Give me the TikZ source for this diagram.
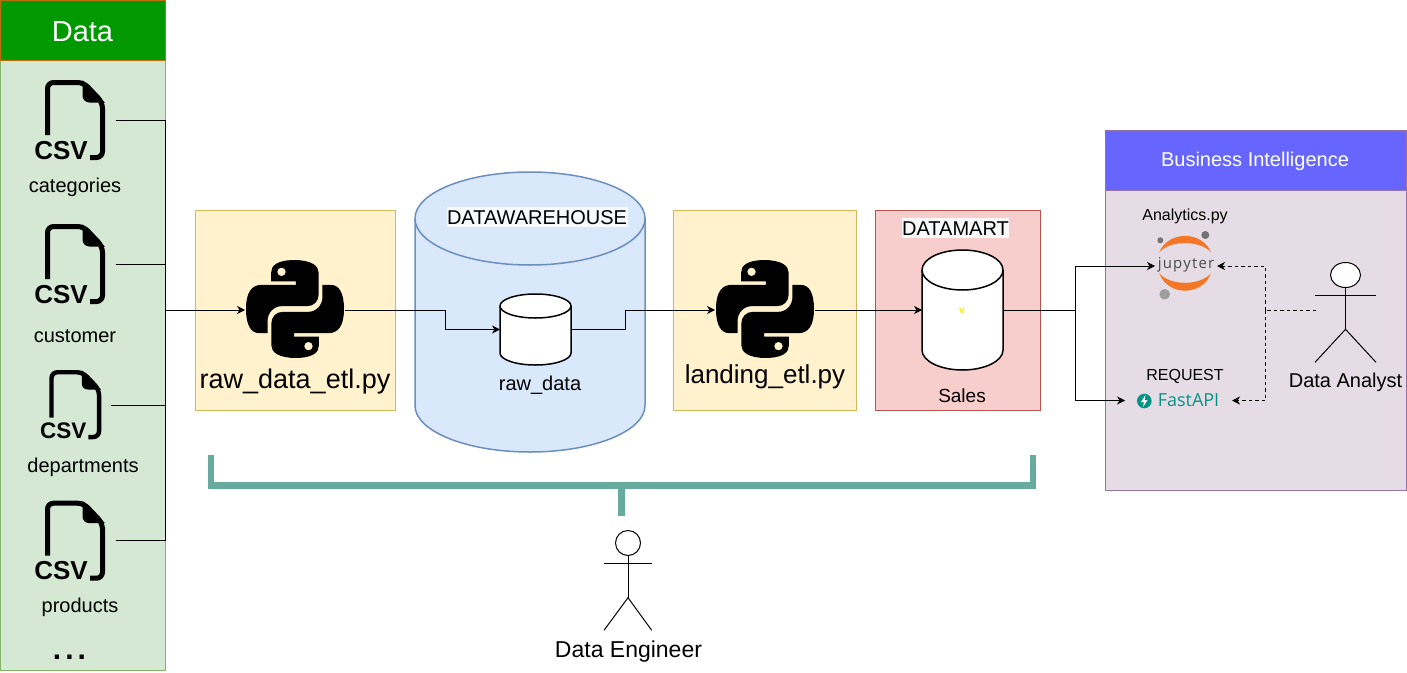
\documentclass[tikz,border=0pt]{standalone}
\usepackage{fontspec}
\setmainfont{Liberation Sans}
\newfontfamily\jupfont[LetterSpace=8]{Open Sans}
\newfontfamily\fastfont{Open Sans}
\usetikzlibrary{arrows.meta,shapes.geometric}
\definecolor{DH}{HTML}{009900}
\definecolor{DS}{HTML}{BD7000}
\definecolor{DP}{HTML}{D5E8D4}
\definecolor{DL}{HTML}{82B366}
\definecolor{Y}{HTML}{FFF2CC}
\definecolor{YL}{HTML}{D6B656}
\definecolor{W}{HTML}{DAE8FC}
\definecolor{WL}{HTML}{6C8EBF}
\definecolor{R}{HTML}{F8CECC}
\definecolor{RL}{HTML}{B85450}
\definecolor{BH}{HTML}{6666FF}
\definecolor{BP}{HTML}{E6DCE5}
\definecolor{BL}{HTML}{9673A6}
\definecolor{T}{HTML}{67AB9F}
\definecolor{J}{HTML}{F37726}
\definecolor{F}{HTML}{059486}
\definecolor{LB}{HTML}{F8F9FA}
\newcommand{\fsize}[1]{\fontsize{#1}{#1}\selectfont}
% node name, half width, ellipse depth, fill, line
\newcommand{\drum}[5]{
  \draw[fill=#4, draw=#5, line width=1.5pt] ([yshift=-#3pt]#1.north west)
    arc[start angle=180, end angle=0, x radius=#2pt, y radius=#3pt]
    -- ([yshift=#3pt]#1.south east)
    arc[start angle=0, end angle=-180, x radius=#2pt, y radius=#3pt] -- cycle;
  \draw[draw=#5, line width=1.5pt] ([yshift=-#3pt]#1.north west)
    arc[start angle=180, end angle=360, x radius=#2pt, y radius=#3pt];
}
\tikzset{
  box/.style={draw, inner sep=0pt, outer sep=0pt},
  txt/.style={anchor=base, inner sep=0pt, outer sep=0pt, font=\fsize{20}},
  bgtxt/.style={txt, fill=LB, inner xsep=0.5pt, inner ysep=3pt},
  hole/.style={inner sep=0pt, outer sep=0pt, minimum width=#1},
  flow/.style={-{Stealth[length=8pt,width=8pt,inset=2.5pt]}, line width=1pt},
  wire/.style={line width=1pt},
  dashwire/.style={line width=1pt, dash pattern=on 3.5pt off 3pt},
  stick/.style={line width=1pt},
  csvfile/.pic={
    \draw[rounded corners=6pt] (0,52.5) -- (0,0) -- (36,0) -- (55,20) -- (55,75) -- (42.5,75);
    \fill (35,-2.5) -- (57.5,20) -- (42,20) .. controls (38,20) and (35,17) .. (35,13) -- cycle;
    \node[anchor=base, inner sep=0pt, transform shape, font=\bfseries\fsize{26}] at (13.5,76.5) {CSV};
  },
  pythonlogo/.pic={
    \foreach \turn in {0,180} {
      \fill[even odd rule, rotate around={\turn:(12,12)}] (11.9,0)
        .. controls (7.5,0.05) and (6.15,1.4) .. (6.15,3.1) -- (6.18,5.25) -- (12.2,5.25)
        -- (12.2,6.07) -- (3.9,6.07) .. controls (1.4,6.07) and (0,7.9) .. (0,12)
        .. controls (0,16.1) and (1.3,17.9) .. (3.2,17.9) -- (5.27,17.9) -- (5.27,15)
        .. controls (5.27,12.9) and (6.8,11.3) .. (8.8,11.3) -- (15,11.3)
        .. controls (16.6,11.3) and (17.8,10.1) .. (17.8,8.4) -- (17.8,3.1)
        .. controls (17.8,1.4) and (16,0.05) .. (11.9,0) -- cycle
        (8.7,2.9) circle (1.05);
    }
  }
}

\begin{document}
\begin{tikzpicture}[x=1pt,y=-1pt]
  \useasboundingbox (0,0) rectangle (1407,672);
  % data column
  \node[box, fill=DP, draw=DL, minimum width=165pt, minimum height=610pt] (datapanel) at (82.5,365) {};
  \node[box, fill=DH, draw=DS, minimum width=165pt, minimum height=60pt] (datahead) at (82.5,30) {};
  \node[txt, text=white, font=\fsize{29}] (datatitle) at (82.5,41) {Data};
  \pic[line width=5pt] at (47.5,82.5) {csvfile};
  \pic[line width=5pt] at (47.5,226.5) {csvfile};
  \pic[line width=4.4pt, scale=0.865] at (51.5,372.2) {csvfile};
  \pic[line width=5pt] at (47.5,503.2) {csvfile};
  \node[txt] (categories) at (75,192) {categories};
  \node[txt] (customer) at (75,342) {customer};
  \node[txt] (departments) at (83,472) {departments};
  \node[txt] (products) at (80,612) {products};
  \node[txt, font=\bfseries\fsize{30}] (moredata) at (69.5,659) {.\kern4pt.\kern4pt.};
  \coordinate (catout) at (115.5,120);
  \coordinate (cusout) at (115.5,264);
  \coordinate (depout) at (110.5,405.5);
  \coordinate (proout) at (115.5,540.5);
  \coordinate (railtop) at (165,120);
  \coordinate (railcus) at (165,264);
  \coordinate (raildep) at (165,405.5);
  \coordinate (railbot) at (165,540.5);
  \coordinate (railmid) at (165,310);

  % etl and storage boxes
  \node[box, fill=Y, draw=YL, minimum width=200pt, minimum height=200pt] (rawbox) at (295.5,310.5) {};
  \node[box, fill=Y, draw=YL, minimum width=183pt, minimum height=200pt] (landbox) at (764.5,310.5) {};
  \node[box, fill=R, draw=RL, minimum width=165pt, minimum height=200pt] (martbox) at (958,310.5) {};
  \node[hole=230pt, minimum height=280pt] (warehouse) at (530,312) {};
  \node[hole=71pt, minimum height=71pt] (rawdb) at (535.5,329.5) {};
  \node[hole=81pt, minimum height=120pt] (salesdb) at (962.5,310) {};
  \drum{warehouse}{115}{46.5}{W}{WL}
  \drum{rawdb}{35.5}{12}{white}{black}
  \drum{salesdb}{40.5}{20}{white}{black}
  \node[hole=100pt, minimum height=100pt] (rawetl) at (295,310) {};
  \node[hole=100pt, minimum height=100pt] (landetl) at (765,310) {};
  \pic[scale=4.083] at (246,260) {pythonlogo};
  \pic[scale=4.083] at (716,260) {pythonlogo};
  \node[txt, font=\fsize{27}] (rawname) at (295,388) {raw\_data\_etl.py};
  \node[txt, font=\fsize{26}] (landname) at (765,383) {landing\_etl.py};
  \node[bgtxt] (whname) at (537,224) {DATAWAREHOUSE};
  \node[txt] (rawdbname) at (540,390) {raw\_data};
  \node[bgtxt, font=\fsize{20}] (martname) at (955.5,235) {DATAMART};
  \node[txt, font=\bfseries\fsize{10}, text=yellow!90!orange] (martmark) at (962,313) {v};
  \node[txt, font=\fsize{19}] (salesname) at (962,402) {Sales};

  % business intelligence
  \node[box, fill=BP, draw=BL, minimum width=300.5pt, minimum height=300pt] (bipanel) at (1255.75,340.5) {};
  \node[box, fill=BH, draw=BL, minimum width=300.5pt, minimum height=60pt] (bihead) at (1255.75,160.5) {};
  \node[txt, text=white] (bititle) at (1255,166) {Business Intelligence};
  \node[txt, font=\fsize{16}] (analytics) at (1185,220) {Analytics.py};
  \node[hole=62pt, minimum height=20pt] (jupyterbox) at (1186,266) {};
  \fill[J] (1159.3,252.3) .. controls (1168,230.5) and (1202,230.5) .. (1211,252.3) .. controls (1200,240) and (1170,240) .. (1159.3,252.3) -- cycle;
  \fill[J] (1159.3,273.3) .. controls (1168,296.5) and (1202,296.5) .. (1211,273.3) .. controls (1200,286) and (1170,286) .. (1159.3,273.3) -- cycle;
  \fill[black!55] (1160.3,240.3) circle (3);
  \fill[black!55] (1205.3,235) circle (4);
  \fill[black!38] (1164.7,294.3) circle (5.3);
  \node[txt, font=\jupfont\fsize{15}, text=black!70] (jupytername) at (1186,268) {jupyter};
  \node[txt, font=\fsize{16}] (request) at (1185,380) {REQUEST};
  \node[hole=107pt, minimum height=20pt] (fastbox) at (1178.5,400.5) {};
  \fill[F] (1144.3,401) circle (7.3);
  \fill[white] (1145.5,395) -- (1141,402) -- (1144,402) -- (1143,407) -- (1147.5,400) -- (1144.6,400) -- cycle;
  \node[txt, font=\fastfont\fsize{18}, text=F] (fastname) at (1188.5,406.7) {FastAPI};
  \node[draw, ellipse, stick, fill=white, inner sep=0pt, minimum width=30pt, minimum height=25pt] (analysthead) at (1345.5,275) {};
  \coordinate (analystarml) at (1315,295.3);
  \coordinate (analystarmr) at (1376,295.3);
  \coordinate (analysthip) at (1345.5,329.3);
  \coordinate (analystfootl) at (1315,362.3);
  \coordinate (analystfootr) at (1376,362.3);
  \draw[stick] (analysthead.south) -- (analysthip);
  \draw[stick] (analystarml) -- (analystarmr);
  \draw[stick] (analystfootl) -- (analysthip) -- (analystfootr);
  \node[txt] (analystname) at (1345.5,387) {Data Analyst};

  % data engineer and bracket
  \coordinate (brackl) at (211,455);
  \coordinate (brackr) at (1033,455);
  \coordinate (brackml) at (211,485.5);
  \coordinate (brackmr) at (1033,485.5);
  \coordinate (brackm) at (621.5,485.5);
  \coordinate (brackstem) at (621.5,515.5);
  \draw[T, line width=6.5pt] (brackl) -- (brackml) -- (brackmr) -- (brackr);
  \draw[T, line width=6.5pt] (brackm) -- (brackstem);
  \node[draw, circle, stick, inner sep=0pt, minimum size=25pt] (engineerhead) at (628,543) {};
  \coordinate (engarml) at (604,563.7);
  \coordinate (engarmr) at (651.7,563.7);
  \coordinate (enghip) at (628,597.7);
  \coordinate (engfootl) at (604,630.3);
  \coordinate (engfootr) at (651.7,630.3);
  \draw[stick] (engineerhead.south) -- (enghip);
  \draw[stick] (engarml) -- (engarmr);
  \draw[stick] (engfootl) -- (enghip) -- (engfootr);
  \node[txt, font=\fsize{23}] (engineername) at (628.5,657) {Data Engineer};

  % connectors
  \draw[wire] (catout) -- (railtop);
  \draw[wire] (cusout) -- (railcus);
  \draw[wire] (depout) -- (raildep);
  \draw[wire] (proout) -- (railbot);
  \draw[wire] (railtop) -- (railbot);
  \draw[flow] (railmid) -- (rawetl.west);
  \coordinate (stepa) at (445,310);
  \coordinate (stepb) at (625.5,310);
  \coordinate (martjoin) at (1075.5,310);
  \coordinate (analystout) at (1316,310);
  \coordinate (dashjoin) at (1265.5,310);
  \draw[flow] (rawetl.east) -- (stepa) |- (rawdb.west);
  \draw[flow] (rawdb.east) -| (stepb) -- (landetl.west);
  \draw[flow] (landetl.east) -- (salesdb.west);
  \draw[wire] (salesdb.east) -- (martjoin);
  \draw[flow] (martjoin) |- (jupyterbox.west);
  \draw[flow] (martjoin) |- (fastbox.west);
  \draw[dashwire] (analystout) -- (dashjoin);
  \draw[dashwire, -{Stealth[length=8pt,width=8pt,inset=2.5pt]}] (dashjoin) |- (jupyterbox.east);
  \draw[dashwire, -{Stealth[length=8pt,width=8pt,inset=2.5pt]}] (dashjoin) |- (fastbox.east);
\end{tikzpicture}
\end{document}
